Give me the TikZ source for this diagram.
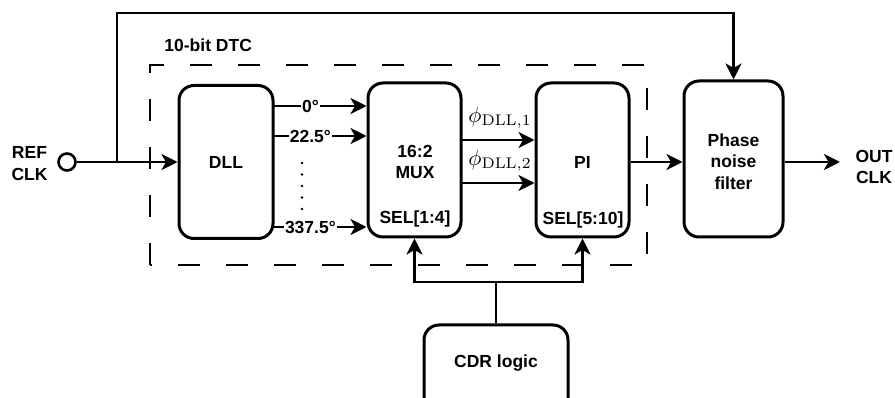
\documentclass[tikz,border=0pt]{standalone}
\usepackage{graphicx}
\usepackage[no-math]{fontspec}
\setmainfont{Liberation Sans}
\usetikzlibrary{arrows.meta,calc}
\begin{document}
\begin{tikzpicture}[x=1pt,y=-1pt,
  line width=2.9pt,
  txt/.style={font=\fontsize{17.5}{21.5}\selectfont\bfseries, inner sep=1pt},
  blk/.style={draw, rounded corners=15pt, line width=3pt, inner sep=0pt},
  arr/.style={-{Stealth[length=16pt,width=16pt,inset=4.5pt]}},
  lbl/.style={txt, fill=white, inner sep=1pt},
  mth/.style={inner sep=0pt},
  dashbox/.style={draw, dash pattern=on 22pt off 26pt, line width=2.9pt}
]
\useasboundingbox (0,0) rectangle (895,398);

% dashed DTC boundary
\draw[dashbox] (150,265) -- (150,65) -- (647,65) -- (647,265) -- cycle;
\node[txt, anchor=west] (dtc) at (162,45) {10-bit DTC};

% blocks
\node[blk, minimum width=94, minimum height=153] (dll) at (226,162) {};
\node[txt] at (dll.center) {DLL};
\node[blk, minimum width=93, minimum height=154] (mux) at (414.5,160) {};
\node[txt, align=center] (muxt) at (415,162) {16:2\\MUX};
\node[txt] (muxsel) at (415,219) {SEL[1:4]};
\node[blk, minimum width=93, minimum height=154] (pi) at (582.5,160) {};
\node[txt] (pit) at (582.5,162) {PI};
\node[txt] (pisel) at (583,220) {SEL[5:10]};
\node[blk, minimum width=99, minimum height=156] (filt) at (733.5,159) {};
\node[txt, align=center] (filtt) at (733.5,161.5) {Phase\\noise\\filter};
\node[blk, minimum width=144, minimum height=90] (cdr) at (496,370) {};
\node[txt] (cdrt) at (496,363) {CDR logic};

% REF CLK input
\node[txt, align=center] (reft) at (29.5,163.5) {REF\\CLK};
\node[draw, circle, minimum size=17pt, inner sep=0pt, line width=2.6pt] (ref) at (67,162) {};
\coordinate (j) at (117,162);
\coordinate (topc) at (117,13);
\draw[arr] (ref.east) -- (dll.west |- ref.east);
\draw[arr] (j) -- (topc) -| (filt.north);

% DLL outputs
\coordinate (o1) at (273,106);
\coordinate (o2) at (273,136);
\coordinate (o3) at (273,227);
\draw[arr] (o1) -- (mux.west |- o1) node[lbl, pos=0.4] {0°};
\draw[arr] (o2) -- (mux.west |- o2) node[lbl, pos=0.4] {22.5°};
\draw[arr] (o3) -- (mux.west |- o3) node[lbl, pos=0.4] {337.5°};
\foreach \yy in {163,174.5,186,197.5,209}
  \fill (302,\yy) circle (1.4pt);

% MUX to PI
\coordinate (m1) at (461,140);
\coordinate (m2) at (461,183);
\draw[arr] (m1) -- (pi.west |- m1);
\draw[arr] (m2) -- (pi.west |- m2);
\node[mth, anchor=base west] (p1) at (467,122.5) {\scalebox{2.2}{$\phi_{\mathrm{DLL},1}$}};
\node[mth, anchor=base west] (p2) at (467,165.5) {\scalebox{2.2}{$\phi_{\mathrm{DLL},2}$}};

% PI to filter, filter out
\draw[arr] (pi.east |- pit) -- (filt.west |- pit);
\coordinate (outend) at (840,162);
\draw[arr] (filt.east |- outend) -- (outend);
\node[txt, align=center] (outt) at (874,167) {OUT\\CLK};

% CDR control
\coordinate (k) at (496,282);
\draw (cdr.north) -- (k);
\draw[arr] (k) -| (mux.south);
\draw[arr] (k) -| (pi.south);
\end{tikzpicture}
\end{document}
